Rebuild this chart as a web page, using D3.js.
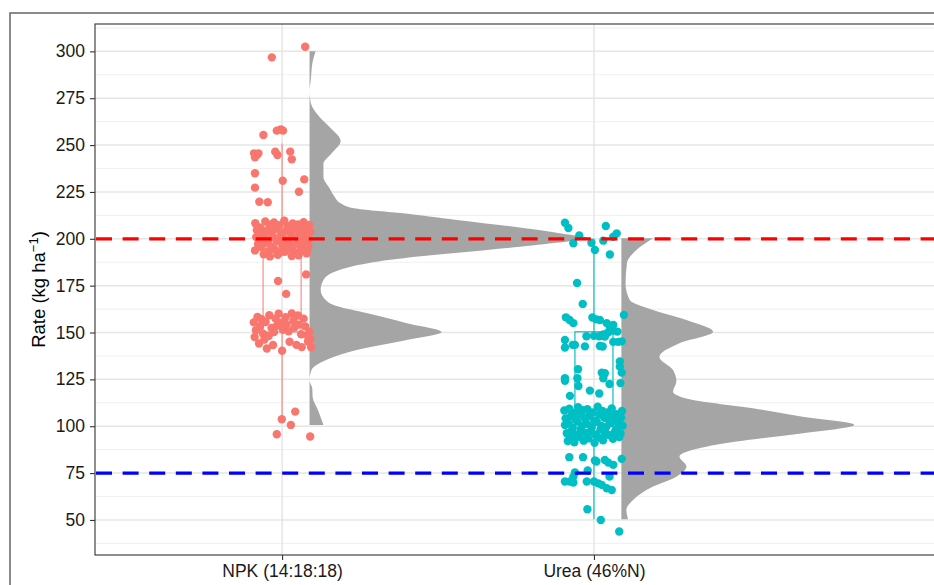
<!DOCTYPE html>
<html>
<head>
<meta charset="utf-8">
<script src="https://cdn.jsdelivr.net/npm/d3@7"></script>
<style>
  body { margin: 0; background: #fff; }
  svg { display: block; font-family: "Liberation Sans", Arial, sans-serif; }
</style>
</head>
<body>
<div id="chart"></div>
<script>
// ---- data ----
const categories = ['NPK (14:18:18)', 'Urea (46%N)'];
const yTicks = [50, 75, 100, 125, 150, 175, 200, 225, 250, 275, 300];
const yMinorTicks = [37.5, 62.5, 87.5, 112.5, 137.5, 162.5, 187.5, 212.5, 237.5, 262.5, 287.5, 312.5];
const refHigh = 200;
const refLow = 75;

// boxplot stats: [lower whisker, Q1, median, Q3, upper whisker]
const npkBox = [103.7, 150.3, 200, 205, 250.8];
const ureaBox = [50.4, 94, 101, 150.4, 200];

// half violin profile: [rate, relative density]
const npkDensity = [
	[300, 2.2], [294.5, 1.1], [284, 0.4], [279, 0], [274.5, 0.2], [270, 1.1], [265, 3.6],
	[259.6, 7.2], [252.2, 11.2], [245.5, 7.9], [240, 5], [233, 5], [227, 7.2], [222.5, 9],
	[219, 11.2], [216.3, 16], [213.7, 32.7], [210, 53], [206.5, 73], [203, 90], [200.3, 100],
	[197.7, 88], [194, 64], [190.5, 39], [187, 21], [183, 10], [178, 5], [172.7, 4],
	[167.4, 5.8], [164, 10], [160.4, 20.5], [155, 35], [150.3, 47.5], [146, 35], [140.7, 17],
	[135.4, 6], [130, 0.7], [124.7, 0], [120, 1], [115.7, 1.1], [109, 2.9], [100.7, 5]
];
const ureaDensity = [
	[200.3, 11.4], [194, 5.4], [187, 2], [176, 1.5], [167.4, 3], [162, 11.4], [156.7, 23.4],
	[150.4, 33], [144.3, 20.9], [137, 13.7], [130, 18.6], [123.8, 19.8], [118.4, 18.6],
	[114, 25.8], [109.6, 47.3], [105, 65.3], [100.7, 83.8], [96.3, 65.3], [91.8, 41.4],
	[87.4, 25.8], [83.8, 20.9], [78.5, 23.4], [73.1, 19.8], [67.8, 11.4], [60.7, 4.2],
	[55.3, 1.8], [50.4, 2.4]
];

// jittered observations: [jitter (category units), rate]
const npkPoints = [
	[0.074, 302.5], [-0.033, 296.8], [-0.060, 255.4], [-0.017, 257.7], [-0.004, 258.4], [0.003, 257.7],
	[-0.090, 245.6], [-0.081, 244.7], [-0.076, 245.6], [-0.087, 243.5], [-0.022, 246.5], [-0.015, 244.7],
	[0.026, 246.5], [0.031, 242.4], [-0.087, 235], [0.002, 231], [0.071, 231.7], [-0.087, 227.3],
	[0.054, 225.1], [-0.073, 219.8], [-0.046, 219.5],
	[-0.086, 208.3], [-0.081, 204.6], [-0.083, 200.9], [-0.077, 197.2], [-0.087, 193.8],
	[-0.071, 206.1], [-0.064, 202.7], [-0.073, 198.4], [-0.067, 195.6], [-0.059, 191.7],
	[-0.054, 209.2], [-0.049, 204.1], [-0.057, 200.6], [-0.051, 197.9], [-0.045, 193.4],
	[-0.041, 207.5], [-0.035, 203.2], [-0.043, 199.3], [-0.032, 195.8], [-0.039, 190.6],
	[-0.026, 208.7], [-0.019, 205.4], [-0.029, 201.2], [-0.017, 198.7], [-0.023, 194.3], [-0.014, 191.5],
	[-0.009, 207.2], [-0.003, 202.6], [-0.011, 199.8], [0.001, 196.1], [-0.006, 192.8],
	[0.007, 209.6], [0.013, 204.3], [0.005, 200.2], [0.016, 197.4], [0.009, 193.1],
	[0.023, 206.4], [0.029, 202.1], [0.019, 198.6], [0.027, 194.7], [0.031, 190.8],
	[0.037, 204.8], [0.043, 200.4], [0.035, 196.3], [0.046, 192.5],
	[0.051, 207.6], [0.057, 203.4], [0.049, 199.2], [0.059, 195.3], [0.053, 191.2],
	[0.065, 205.2], [0.069, 201.3], [0.061, 197.7], [0.071, 193.6],
	[0.077, 206.3], [0.081, 202.5], [0.073, 198.1], [0.083, 195.4], [0.079, 192.2],
	[0.087, 207.4], [0.091, 203.6], [0.085, 199.5], [0.084, 196.2],
	[-0.075, 205.5], [-0.03, 206.8], [0.034, 208.2], [0.069, 208.9], [0.018, 206.7], [-0.062, 204.4],
	[-0.013, 177.5], [0.077, 181], [0.013, 170.6],
	[-0.091, 155.4], [-0.084, 151.2], [-0.088, 147.6], [-0.079, 158.3], [-0.074, 144.1], [-0.071, 153.2],
	[-0.066, 157.1], [-0.061, 149.4], [-0.057, 146.3], [-0.049, 141.5], [-0.053, 155.6],
	[-0.041, 159.2], [-0.034, 152.4], [-0.043, 148.1], [-0.029, 143.3],
	[-0.021, 157.4], [-0.017, 153.6], [-0.026, 150.2], [-0.011, 160.1],
	[-0.004, 155.3], [0.003, 151.5], [0.0, 140.3],
	[0.011, 158.2], [0.014, 154.4], [0.021, 150.7], [0.024, 145.1],
	[0.031, 160.2], [0.036, 156.3], [0.039, 152.6], [0.046, 143.4],
	[0.051, 159.1], [0.054, 154.2], [0.061, 149.1], [0.063, 142.2],
	[0.069, 157.4], [0.074, 153.3], [0.079, 148.6], [0.083, 145.2],
	[0.087, 150.4], [0.091, 146.5], [0.093, 142.1],
	[0.042, 107.8], [-0.001, 103.7], [0.028, 100.7], [-0.017, 95.7], [0.09, 94.5]
];
const ureaPoints = [
	[-0.093, 208.6], [-0.082, 205.8], [-0.047, 201.8], [-0.066, 197.6], [-0.008, 197.9], [0.003, 194],
	[0.038, 206.8], [0.03, 199], [0.073, 202.9], [0.062, 201.1], [0.051, 191.6],
	[-0.054, 176.4], [-0.036, 165.2],
	[-0.09, 158.1], [-0.078, 156.7], [-0.066, 155], [-0.005, 158], [0.008, 157], [0.019, 156.7],
	[0.041, 155], [0.051, 153.1], [0.062, 154], [0.096, 159.4], [0.075, 150.5], [0.06, 151],
	[0.045, 150], [0.03, 149], [-0.093, 146], [-0.068, 143.4], [-0.061, 143.4],
	[-0.024, 148], [0, 148.2], [0.017, 148], [0.035, 147.8], [-0.029, 142.6], [0.019, 142.8],
	[0.028, 142.5], [0.062, 145], [0.078, 145], [0.089, 145.3], [-0.093, 142],
	[-0.051, 130.4], [0.025, 128.6], [0.035, 128.3], [0.083, 134.5], [0.083, 131.8], [0.089, 128.6],
	[-0.093, 125.6], [-0.053, 125.6], [0.03, 125.6], [-0.093, 124.3], [-0.013, 119], [0.017, 117.5],
	[0.05, 122.5], [0.085, 123], [-0.077, 116.2], [-0.05, 121.5],
	[-0.095, 108.4], [-0.091, 104.2], [-0.093, 100.6], [-0.087, 96.3], [-0.084, 92.1],
	[-0.079, 109.3], [-0.074, 105.5], [-0.081, 101.4], [-0.071, 97.6], [-0.076, 93.2],
	[-0.066, 107.1], [-0.059, 103.4], [-0.068, 99.2], [-0.057, 95.3], [-0.063, 91.4],
	[-0.051, 110.2], [-0.045, 106.3], [-0.053, 102.6], [-0.043, 98.1], [-0.048, 94.4],
	[-0.036, 108.5], [-0.029, 104.3], [-0.039, 100.2], [-0.027, 96.5], [-0.033, 92.3],
	[-0.021, 109.1], [-0.015, 105.6], [-0.023, 101.3], [-0.011, 97.2], [-0.018, 93.5],
	[-0.004, 107.4], [0.001, 103.1], [-0.007, 99.3], [0.005, 95.6], [0.002, 91.2],
	[0.012, 110.4], [0.017, 106.2], [0.009, 102.4], [0.021, 98.3], [0.014, 94.1],
	[0.027, 108.2], [0.033, 104.5], [0.024, 100.1], [0.036, 96.4], [0.029, 92.5],
	[0.043, 107.3], [0.047, 103.2], [0.039, 99.4], [0.051, 95.2],
	[0.057, 109.5], [0.063, 105.3], [0.055, 101.6], [0.067, 97.1], [0.061, 93.3],
	[0.071, 106.4], [0.077, 102.2], [0.073, 98.5], [0.081, 94.3],
	[0.087, 104.6], [0.092, 100.3], [0.085, 96.1], [0.09, 108.1],
	[-0.079, 83.5], [-0.035, 83.5], [0.003, 81.7], [0.008, 81.2], [0.035, 82], [0.046, 80.6],
	[0.062, 79.4], [0.089, 82.6], [-0.061, 75.3], [-0.066, 73.1], [-0.02, 76.4], [0.05, 73.1],
	[-0.093, 70.5], [-0.077, 70.5], [-0.066, 70], [-0.023, 70.5], [0, 70.5], [0.014, 69.5],
	[0.025, 68.7], [0.041, 66.9], [0.057, 66], [-0.021, 55.7], [0.022, 50], [0.081, 43.8]
];

const groups = [
	{ pos: 1, points: npkPoints, box: npkBox, density: npkDensity, color: '#F8766D', boxOpacity: 0.75 },
	{ pos: 2, points: ureaPoints, box: ureaBox, density: ureaDensity, color: '#00BFC4', boxOpacity: 0.9 }
];

// ---- layout ----
const W = 934, H = 585;
const panel = { left: 95, top: 24, right: 1043, bottom: 555 };
const boxHalf = 0.061;
const violinOffset = 0.088;

const svg = d3.select('#chart').append('svg')
	.attr('width', W)
	.attr('height', H);

const x = d3.scaleLinear().domain([0.4, 3.44]).range([panel.left, panel.right]);
const y = d3.scaleLinear().domain([31.3, 314.6]).range([panel.bottom, panel.top]);
const violinWidth = d3.scaleLinear().domain([0, 100]).range([0, 0.891]);

function createFrame() {
	svg.append('rect')
		.attr('x', 10).attr('y', 13)
		.attr('width', 1000).attr('height', 1000)
		.style('fill', 'none')
		.style('stroke', '#6f6f6f')
		.style('stroke-width', 1.6);
}

function createGridlines() {
	const g = svg.append('g').classed('gridlines', true);
	g.selectAll('line.minor')
		.data(yMinorTicks)
		.enter().append('line')
			.classed('minor', true)
			.attr('x1', panel.left).attr('x2', panel.right)
			.attr('y1', d => y(d)).attr('y2', d => y(d))
			.style('stroke', '#f1f1f1')
			.style('stroke-width', 1.1);
	g.selectAll('line.major')
		.data(yTicks)
		.enter().append('line')
			.classed('major', true)
			.attr('x1', panel.left).attr('x2', panel.right)
			.attr('y1', d => y(d)).attr('y2', d => y(d))
			.style('stroke', '#e6e6e6')
			.style('stroke-width', 1.5);
	g.selectAll('line.vmajor')
		.data(groups)
		.enter().append('line')
			.classed('vmajor', true)
			.attr('x1', d => x(d.pos)).attr('x2', d => x(d.pos))
			.attr('y1', panel.top).attr('y2', panel.bottom)
			.style('stroke', '#e6e6e6')
			.style('stroke-width', 1.5);
}

function createViolins(plot) {
	groups.forEach(grp => {
		const area = d3.area()
			.curve(d3.curveMonotoneY)
			.y(d => y(d[0]))
			.x0(x(grp.pos + violinOffset))
			.x1(d => x(grp.pos + violinOffset + violinWidth(d[1])));
		plot.append('path')
			.datum(grp.density)
			.attr('d', area)
			.style('fill', '#a5a5a5')
			.style('stroke', 'none');
	});
}

function createBoxes(plot) {
	groups.forEach(grp => {
		const [lo, q1, med, q3, hi] = grp.box;
		const g = plot.append('g')
			.style('stroke', grp.color)
			.style('stroke-opacity', grp.boxOpacity)
			.style('stroke-width', 1.3)
			.style('fill', 'none');
		g.append('line')
			.attr('x1', x(grp.pos)).attr('x2', x(grp.pos))
			.attr('y1', y(hi)).attr('y2', y(q3));
		g.append('line')
			.attr('x1', x(grp.pos)).attr('x2', x(grp.pos))
			.attr('y1', y(q1)).attr('y2', y(lo));
		g.append('rect')
			.attr('x', x(grp.pos - boxHalf))
			.attr('y', y(q3))
			.attr('width', x(grp.pos + boxHalf) - x(grp.pos - boxHalf))
			.attr('height', y(q1) - y(q3));
		g.append('line')
			.attr('x1', x(grp.pos - boxHalf)).attr('x2', x(grp.pos + boxHalf))
			.attr('y1', y(med)).attr('y2', y(med))
			.style('stroke-width', 2.2);
	});
}

function createPoints(plot) {
	groups.forEach(grp => {
		plot.append('g')
			.selectAll('circle')
			.data(grp.points)
			.enter().append('circle')
				.attr('cx', d => x(grp.pos + d[0]))
				.attr('cy', d => y(d[1]))
				.attr('r', 4.2)
				.style('fill', grp.color);
	});
}

function createRefLines(plot) {
	[[refHigh, '#ff0000'], [refLow, '#0000ff']].forEach(([v, c]) => {
		plot.append('line')
			.attr('x1', panel.left + 1).attr('x2', panel.right)
			.attr('y1', y(v)).attr('y2', y(v))
			.style('stroke', c)
			.style('stroke-width', 3.3)
			.style('stroke-dasharray', '16 10.6');
	});
}

function createAxis() {
	const axisY = d3.axisLeft(y).tickValues(yTicks).tickSize(5).tickPadding(5);
	const axisX = d3.axisBottom(x).tickValues(groups.map(d => d.pos))
		.tickFormat((d, i) => categories[i]).tickSize(5).tickPadding(5);

	const gy = svg.append('g')
		.attr('transform', `translate(${panel.left},0)`)
		.call(axisY);
	const gx = svg.append('g')
		.attr('transform', `translate(0,${panel.bottom})`)
		.call(axisX);

	[gx, gy].forEach(g => {
		g.select('.domain').remove();
		g.selectAll('.tick line').style('stroke', '#333').style('stroke-width', 1.1);
		g.selectAll('.tick text')
			.style('fill', '#1a1a1a')
			.style('font-size', '17.5px')
			.style('font-family', '"Liberation Sans", Arial, sans-serif');
	});

	// panel border
	svg.append('rect')
		.attr('x', panel.left).attr('y', panel.top)
		.attr('width', panel.right - panel.left)
		.attr('height', panel.bottom - panel.top)
		.style('fill', 'none')
		.style('stroke', '#333')
		.style('stroke-width', 1.1);

	const title = svg.append('text')
		.attr('transform', `translate(45,${(panel.top + panel.bottom) / 2}) rotate(-90)`)
		.attr('text-anchor', 'middle')
		.style('font-size', '18.5px')
		.style('fill', '#000');
	title.append('tspan').text('Rate (kg ha');
	title.append('tspan').attr('dy', -7).style('font-size', '13px').text('\u22121');
	title.append('tspan').attr('dy', 7).text(')');
}

createFrame();
createGridlines();
const plot = svg.append('g').classed('plot', true);
createViolins(plot);
createBoxes(plot);
createPoints(plot);
createRefLines(plot);
createAxis();
</script>
</body>
</html>
